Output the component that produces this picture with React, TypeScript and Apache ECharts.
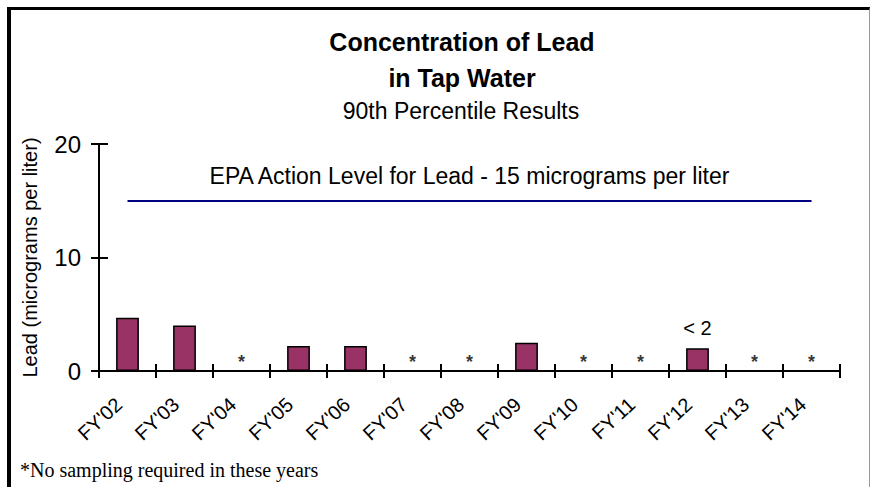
import React, { useEffect, useRef } from "react";
import * as echarts from "echarts";

const categories = ["FY'02", "FY'03", "FY'04", "FY'05", "FY'06", "FY'07", "FY'08", "FY'09", "FY'10", "FY'11", "FY'12", "FY'13", "FY'14"];
const leadValues = [4.7, 4.0, null, 2.2, 2.2, null, null, 2.5, null, null, 2.0, null, null];
const noSampling = [false, false, true, false, false, true, true, false, true, true, false, true, true];
const valueNotes = ["", "", "", "", "", "", "", "", "", "", "< 2", "", ""];
const actionLevel = 15;
const actionLabel = "EPA Action Level for Lead - 15 micrograms per liter";
const yTicks = { min: 0, max: 20, interval: 10 };

const FONT = "Arial, 'Liberation Sans', sans-serif";

export default function App() {
  const ref = useRef<HTMLDivElement>(null);
  useEffect(() => {
    if (!ref.current) return;
    const chart = echarts.init(ref.current, null, { renderer: "svg" });
    const barData = leadValues.map((v, i) => ({
      value: v,
      label: {
        show: !!valueNotes[i],
        formatter: valueNotes[i],
        position: "top",
        distance: 10,
        fontSize: 20,
        color: "#000",
        fontFamily: FONT,
      },
    }));
    const starData = noSampling.map((s) => (s ? 0 : null));
    chart.setOption({
      animation: false,
      backgroundColor: "#fff",
      title: [
        {
          text: "Concentration of Lead\nin Tap Water",
          left: 462,
          top: 24,
          padding: 0,
          textAlign: "center",
          textStyle: { fontSize: 25, fontWeight: "bold", color: "#000", fontFamily: FONT, lineHeight: 36 },
        },
        {
          text: "90th Percentile Results",
          left: 461,
          top: 99,
          padding: 0,
          textAlign: "center",
          textStyle: { fontSize: 23, fontWeight: "normal", color: "#000", fontFamily: FONT },
        },
        {
          text: "*No sampling required in these years",
          left: 20,
          top: 460,
          padding: 0,
          textStyle: { fontSize: 20, fontWeight: "normal", color: "#000", fontFamily: "'Liberation Serif', 'Times New Roman', serif" },
        },
      ],
      grid: { left: 99, right: 31, top: 144, bottom: 116, containLabel: false },
      xAxis: [
        {
          type: "category",
          data: categories,
          boundaryGap: true,
          axisLine: { lineStyle: { color: "#000", width: 2 } },
          axisTick: { show: true, length: 7, interval: 0, lineStyle: { color: "#000", width: 2 } },
          axisLabel: { interval: 0, rotate: 43, fontSize: 20, color: "#000", fontFamily: FONT, margin: 22, padding: [0, 12, 0, 0] },
          splitLine: { show: false },
        },
        {
          type: "category",
          data: categories,
          position: "bottom",
          boundaryGap: true,
          axisLine: { show: false },
          axisTick: { show: true, inside: true, length: 7, interval: 0, lineStyle: { color: "#000", width: 2 } },
          axisLabel: { show: false },
          splitLine: { show: false },
        },
      ],
      yAxis: [
        {
          type: "value",
          min: yTicks.min,
          max: yTicks.max,
          interval: yTicks.interval,
          name: "Lead (micrograms per liter)",
          nameLocation: "middle",
          nameGap: 59,
          nameTextStyle: { fontSize: 20, color: "#000", fontFamily: FONT },
          axisLine: { show: true, lineStyle: { color: "#000", width: 2 } },
          axisTick: { show: true, length: 8, lineStyle: { color: "#000", width: 2 } },
          axisLabel: { fontSize: 24, color: "#000", fontFamily: FONT, margin: 18 },
          splitLine: { show: false },
        },
        {
          type: "value",
          min: yTicks.min,
          max: yTicks.max,
          interval: yTicks.interval,
          position: "left",
          axisLine: { show: false },
          axisTick: { show: true, inside: true, length: 9, lineStyle: { color: "#000", width: 2 } },
          axisLabel: { show: false },
          splitLine: { show: false },
        },
      ],
      series: [
        {
          type: "bar",
          data: barData,
          barWidth: "40%",
          itemStyle: { color: "#993366", borderColor: "#000", borderWidth: 1.5 },
          markLine: {
            silent: true,
            symbol: "none",
            lineStyle: { color: "#000080", width: 2, type: "solid" },
            label: {
              show: true,
              position: "middle",
              formatter: actionLabel,
              fontSize: 23,
              color: "#000",
              fontFamily: FONT,
              distance: 13,
            },
            data: [
              [
                { coord: [categories[0], actionLevel] },
                { coord: [categories[categories.length - 1], actionLevel] },
              ],
            ],
          },
        },
        {
          type: "scatter",
          data: starData,
          symbolSize: 0,
          silent: true,
          label: {
            show: true,
            formatter: "*",
            position: "inside",
            offset: [0, -9],
            fontSize: 18,
            fontWeight: "bold",
            color: "#000",
            fontFamily: FONT,
          },
        },
      ],
    });
    return () => chart.dispose();
  }, []);

  return (
    <div style={{ position: "fixed", left: 0, top: 0, width: 871, height: 487, background: "#fff", overflow: "hidden" }}>
      <div ref={ref} style={{ position: "absolute", left: 0, top: 0, width: 871, height: 487 }} />
      <div
        style={{
          position: "absolute",
          left: 7,
          top: 7,
          width: 858,
          height: 600,
          borderTop: "3px solid #000",
          borderLeft: "4px solid #000",
          borderRight: "1px solid #999",
          pointerEvents: "none",
        }}
      />
    </div>
  );
}
